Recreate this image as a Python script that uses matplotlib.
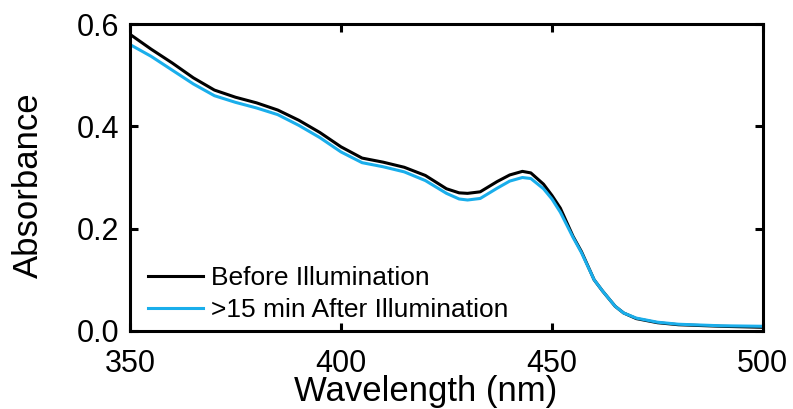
import matplotlib
matplotlib.use("Agg")
import matplotlib.pyplot as plt

plt.rcParams['font.family'] = ['Liberation Sans', 'DejaVu Sans']

# absorption spectra (nm, absorbance)
wavelength = [350, 355, 360, 365, 370, 375, 380, 385, 390, 395, 400, 405, 410,
              415, 420, 425, 428, 430, 433, 437, 440, 443, 445, 448, 450, 452,
              455, 457, 460, 462, 465, 467, 470, 475, 480, 490, 500]
before = [0.580, 0.551, 0.524, 0.495, 0.471, 0.457, 0.446, 0.432, 0.412, 0.388,
          0.360, 0.338, 0.330, 0.320, 0.304, 0.278, 0.270, 0.269, 0.272, 0.292,
          0.305, 0.312, 0.309, 0.287, 0.265, 0.240, 0.185, 0.155, 0.100, 0.078,
          0.048, 0.035, 0.024, 0.016, 0.012, 0.009, 0.007]
after = [0.560, 0.537, 0.510, 0.483, 0.460, 0.447, 0.436, 0.423, 0.402, 0.378,
         0.350, 0.329, 0.321, 0.311, 0.294, 0.269, 0.258, 0.256, 0.259, 0.279,
         0.293, 0.300, 0.298, 0.278, 0.258, 0.232, 0.183, 0.153, 0.100, 0.078,
         0.048, 0.035, 0.025, 0.017, 0.013, 0.010, 0.009]

xticks = [350, 400, 450, 500]
yticks = [0.0, 0.2, 0.4, 0.6]

fig = plt.figure(figsize=(7.93, 4.09), dpi=100)
ax = fig.add_axes([0.164, 0.191, 0.798, 0.750])

ax.plot(wavelength, before, color='black', lw=2.2, label='Before Illumination')
ax.plot(wavelength, after, color='#1AAEEB', lw=2.2, label='>15 min After Illumination')

ax.set_xlim(350, 500)
ax.set_ylim(0, 0.6)
ax.set_xticks(xticks)
ax.set_yticks(yticks)
ax.set_yticklabels(['%.1f' % v for v in yticks])

for s in ax.spines.values():
    s.set_linewidth(2.2)
ax.tick_params(direction='in', length=6, width=2.2, labelsize=22,
               top=True, right=True)
ax.tick_params(axis='y', pad=8)
ax.tick_params(axis='x', pad=13)

ax.set_xlabel('Wavelength (nm)', fontsize=25)
ax.xaxis.set_label_coords(0.467, -0.145)
ax.set_ylabel('Absorbance', fontsize=25)
ax.yaxis.set_label_coords(-0.134, 0.476)

ax.legend(loc='upper left', bbox_to_anchor=(0.028, 0.212), frameon=False,
          fontsize=19, handlelength=2.1, handletextpad=0.3, labelspacing=0.3,
          borderpad=0, borderaxespad=0)

fig.savefig('out.png', dpi=100)
